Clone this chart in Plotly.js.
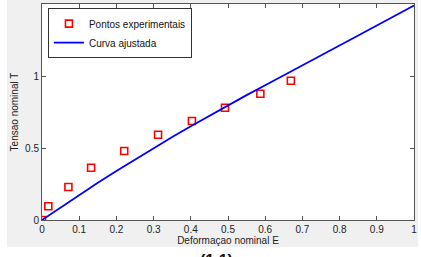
<!DOCTYPE html>
<html>
<head>
<meta charset="utf-8">
<script src="https://cdn.plot.ly/plotly-3.0.1.min.js"></script>
<style>
html,body{margin:0;padding:0;background:#fff;width:421px;height:257px;overflow:hidden;}
#bg{position:absolute;left:7px;top:0;width:411px;height:247px;background:#f0f0f0;}
#plot{position:absolute;left:0;top:0;width:421px;height:257px;}
</style>
</head>
<body>
<div id="bg"></div>
<div id="plot"></div>
<script>
// Experimental points
var expE = [0, 0.017, 0.071, 0.132, 0.221, 0.312, 0.403, 0.492, 0.587, 0.669];
var expT = [0, 0.095, 0.229, 0.363, 0.479, 0.592, 0.688, 0.780, 0.877, 0.967];
// Fitted curve
var fitE = [0, 0.05, 0.1, 0.15, 0.2, 0.25, 0.3, 0.35, 0.4, 0.45, 0.5, 0.55, 0.6, 0.65, 0.7, 0.75, 0.8, 0.85, 0.9, 0.95, 1.0];
var fitT = [0, 0.088, 0.175, 0.259, 0.340, 0.420, 0.499, 0.576, 0.651, 0.724, 0.796, 0.867, 0.936, 1.004, 1.073, 1.142, 1.211, 1.281, 1.351, 1.420, 1.490];
var xTicks = [0, 0.1, 0.2, 0.3, 0.4, 0.5, 0.6, 0.7, 0.8, 0.9, 1];
var xTickText = ['0', '0.1', '0.2', '0.3', '0.4', '0.5', '0.6', '0.7', '0.8', '0.9', '1'];
var yTicks = [0, 0.5, 1, 1.5];
var yTickText = ['0', '0.5', '1', '1.5'];

var font = 'Liberation Sans, Arial, sans-serif';
var traces = [
  {x: expE, y: expT, mode: 'markers', name: 'Pontos experimentais',
   marker: {symbol: 'square-open', size: 7, color: '#ff0000', line: {width: 1.6, color: '#ff0000'}}},
  {x: fitE, y: fitT, mode: 'lines', name: 'Curva ajustada',
   line: {color: '#0000ff', width: 1.8}}
];
var axisCommon = {
  showline: true, linecolor: '#555', linewidth: 1, mirror: 'ticks',
  ticks: 'inside', ticklen: 4, tickcolor: '#555', tickwidth: 1,
  showgrid: false, zeroline: false,
  tickfont: {family: font, size: 10, color: '#222'}
};
var layout = {
  width: 421, height: 257,
  margin: {l: 42, r: 7, t: 4, b: 37, pad: 0},
  paper_bgcolor: 'rgba(0,0,0,0)', plot_bgcolor: '#ffffff',
  showlegend: true,
  xaxis: Object.assign({}, axisCommon, {range: [0, 1], tickvals: xTicks, ticktext: xTickText,
    title: {text: 'Deformaçao nominal E', font: {family: font, size: 10, color: '#222'}, standoff: 2}}),
  yaxis: Object.assign({}, axisCommon, {range: [0, 1.5], tickvals: yTicks, ticktext: yTickText,
    title: {text: 'Tensao nominal T', font: {family: font, size: 10, color: '#222'}, standoff: 4}}),
  legend: {x: 0.016, y: 0.981, xanchor: 'left', yanchor: 'top', bgcolor: '#ffffff',
    bordercolor: '#333', borderwidth: 1, font: {family: font, size: 10, color: '#111'},
    tracegroupgap: 0},
  annotations: [{text: '<b>(1.1)</b>', xref: 'paper', yref: 'paper', x: 0.47, y: -0.14,
    xanchor: 'center', yanchor: 'top', showarrow: false,
    font: {family: font, size: 16, color: '#111'}}]
};
Plotly.newPlot('plot', traces, layout, {displayModeBar: false, staticPlot: true});
</script>
</body>
</html>
